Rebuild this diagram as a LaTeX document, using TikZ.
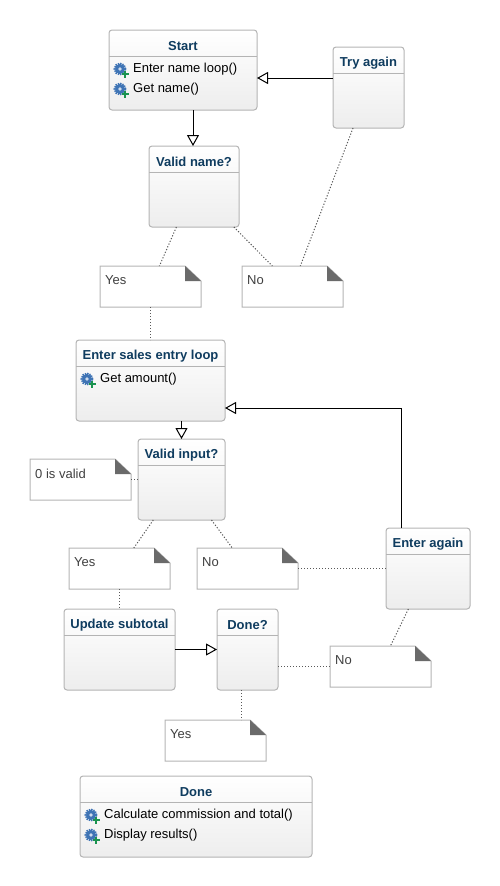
\documentclass[tikz,border=0pt]{standalone}
\usepackage{fontspec}
\setmainfont{Liberation Sans}
\usetikzlibrary{positioning,calc,arrows.meta}

\definecolor{titleblue}{HTML}{0F3C5F}
\definecolor{boxline}{HTML}{B4B4B4}
\definecolor{foldgray}{HTML}{6A6A6A}
\definecolor{gearblue}{HTML}{3F74B5}
\definecolor{plusgreen}{HTML}{1B9350}

\tikzset{
    classbox/.style={draw=boxline, line width=1pt, rounded corners=3pt, top color=white, bottom color=black!7, inner sep=0pt, outer sep=0pt},
    classtitle/.style={font=\fontsize{13}{15}\selectfont\bfseries, text=titleblue, inner sep=0pt},
    classitem/.style={font=\fontsize{13}{15}\selectfont, text=black, anchor=west, inner sep=0pt},
    notebox/.style={fill=white, inner sep=0pt, outer sep=0pt},
    noteline/.style={draw=boxline, line width=1pt, fill=white},
    notetext/.style={font=\fontsize{13}{15}\selectfont, text=black!75, anchor=north west, inner sep=0pt},
    dotline/.style={line width=1pt, black!65, dash pattern=on 1.2pt off 1.8pt},
    genline/.style={line width=1pt, -{Triangle[open, length=11pt, width=12pt, fill=white]}}
}

% class box with a title band: name, left, top, right, bottom, title
\newcommand{\umlclass}[6]{
    \node[classbox, minimum width=#4pt-#2pt, minimum height=#5pt-#3pt] (#1) at ({(#2+#4)/2},{(#3+#5)/2}) {};
    \node[classtitle] (#1title) at ({(#2+#4)/2},#3+16) {#6};
    \draw[boxline, line width=1pt] (#2,#3+26) -- (#4,#3+26);
}

% note with folded corner: name, left, top, text
\newcommand{\umlnote}[4]{
    \node[notebox, minimum width=101pt, minimum height=41pt] (#1) at (#2+50.5,#3+20.5) {};
    \draw[noteline] (#1.north west) -- ([xshift=-16pt]#1.north east) -- ([yshift=-15pt]#1.north east) -- (#1.south east) -- (#1.south west) -- cycle;
    \fill[foldgray] ([xshift=-16pt]#1.north east) -- ([yshift=-15pt]#1.north east) -- ([xshift=-16pt,yshift=-15pt]#1.north east) -- cycle;
    \node[notetext] (#1text) at (#2+5,#3+9.5) {#4};
}

% method row: name, icon x, y, text
\newcommand{\umlitem}[4]{
    \draw[gearblue, line width=2pt, dash pattern=on 1.4pt off 0.9pt] (#2-1,#3) circle (5.5pt);
    \fill[gearblue] (#2-1,#3) circle (5pt);
    \fill[white!75!gearblue] (#2-1,#3) circle (1.8pt);
    \draw[plusgreen, line width=2.4pt] (#2+.5,#3+5) -- (#2+7.5,#3+5) (#2+4,#3+1.5) -- (#2+4,#3+8.5);
    \node[classitem] (#1) at (#2+12,#3+.5) {#4};
}

\begin{document}
\begin{tikzpicture}[x=1pt,y=-1pt]
    \useasboundingbox (0,0) rectangle (499,886);

    % classes
    \umlclass{start}{109}{30}{257}{110}{Start}
    \umlclass{tryagain}{333}{47}{404}{128}{Try again}
    \umlclass{validname}{149}{146}{239}{227}{Valid name?}
    \umlclass{salesloop}{76}{340}{225}{421}{Enter sales entry loop}
    \umlclass{validinput}{138}{439}{225}{520}{Valid input?}
    \umlclass{enteragain}{386}{528}{470}{609}{Enter again}
    \umlclass{subtotal}{64}{609}{175}{690}{Update subtotal}
    \umlclass{donecheck}{217}{609}{278}{690}{Done?}
    \umlclass{done}{80}{776}{312}{857}{Done}

    % methods
    \umlitem{nameloop}{121}{69}{Enter name loop()}
    \umlitem{getname}{121}{89}{Get name()}
    \umlitem{getamount}{88}{379}{Get amount()}
    \umlitem{calctotal}{92}{815}{Calculate commission and total()}
    \umlitem{results}{92}{835}{Display results()}

    % notes
    \umlnote{yesname}{100}{266}{Yes}
    \umlnote{noname}{242}{266}{No}
    \umlnote{validzero}{30}{459}{0 is valid}
    \umlnote{yesinput}{69}{548}{Yes}
    \umlnote{noinput}{197}{548}{No}
    \umlnote{nodone}{330}{646}{No}
    \umlnote{yesdone}{165}{720}{Yes}

    % generalization arrows
    \draw[genline] ([xshift=-1pt]validname.north |- start.south) -- ([xshift=-1pt]validname.north); % Start down
    \draw[genline] ([yshift=9.5pt]tryagain.west) -- ([yshift=-8pt]start.east);
    \draw[genline] (validinput.north |- salesloop.south) -- (validinput.north);
    \draw[genline] (subtotal.east) -- (donecheck.west);
    \draw[genline] ([xshift=-27pt]enteragain.north) |- ([yshift=-27.5pt]salesloop.east); % Loop back

    % dotted note links
    \draw[dotline] (validname) -- (yesname);
    \draw[dotline] (validname) -- (noname);
    \draw[dotline] (tryagain) -- (noname);
    \draw[dotline] (yesname.south) -- (yesname.south |- salesloop.north);
    \draw[dotline] (validinput) -- (yesinput);
    \draw[dotline] (validinput) -- (noinput);
    \draw[dotline] (validzero.east) -- (validinput.west);
    \draw[dotline] (noinput.east) -- (enteragain.west);
    \draw[dotline] (enteragain) -- (nodone);
    \draw[dotline] (yesinput.south) -- (yesinput.south |- subtotal.north);
    \draw[dotline] (donecheck.east |- nodone.west) -- (nodone.west);
    \draw[dotline] ([xshift=-6.5pt]donecheck.south) -- ([xshift=-6.5pt]donecheck.south |- yesdone.north);
\end{tikzpicture}
\end{document}
